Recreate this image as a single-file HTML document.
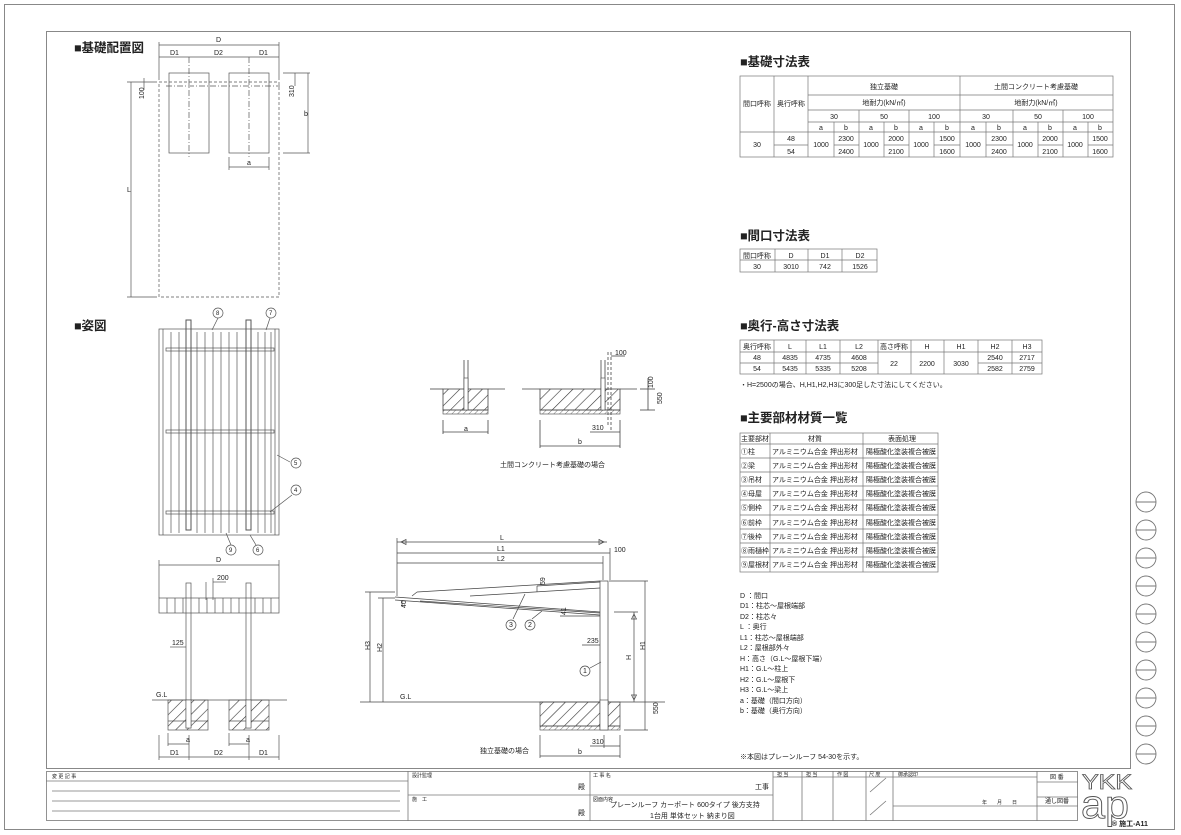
<!DOCTYPE html>
<html><head><meta charset="utf-8"><style>
html,body{margin:0;padding:0;background:#fff}
svg{display:block}
text{font-family:"Liberation Sans","Noto Sans CJK JP",sans-serif;fill:#222}
.t{font-size:7px}
.h{font-size:12.5px;font-weight:bold}
</style></head><body>
<svg width="1181" height="835" viewBox="0 0 1181 835" xmlns="http://www.w3.org/2000/svg">
<defs>
<pattern id="hat" width="8" height="8" patternUnits="userSpaceOnUse" patternTransform="rotate(45)"><line x1="0" y1="0" x2="0" y2="8" stroke="#333" stroke-width="1.2"/></pattern>
<pattern id="hat2" width="4" height="4" patternUnits="userSpaceOnUse" patternTransform="rotate(45)"><line x1="0" y1="0" x2="0" y2="4" stroke="#555" stroke-width="0.8"/></pattern>
</defs>
<g fill="none" stroke="#888" stroke-width="1">
<rect x="4.5" y="4.5" width="1170" height="825"/>
<rect x="46.5" y="31.5" width="1084" height="737"/>
</g>
<g fill="none" stroke="#777" stroke-width="0.9">
<circle cx="1146" cy="502" r="10"/><line x1="1136" y1="502" x2="1156" y2="502"/>
<circle cx="1146" cy="530" r="10"/><line x1="1136" y1="530" x2="1156" y2="530"/>
<circle cx="1146" cy="558" r="10"/><line x1="1136" y1="558" x2="1156" y2="558"/>
<circle cx="1146" cy="586" r="10"/><line x1="1136" y1="586" x2="1156" y2="586"/>
<circle cx="1146" cy="614" r="10"/><line x1="1136" y1="614" x2="1156" y2="614"/>
<circle cx="1146" cy="642" r="10"/><line x1="1136" y1="642" x2="1156" y2="642"/>
<circle cx="1146" cy="670" r="10"/><line x1="1136" y1="670" x2="1156" y2="670"/>
<circle cx="1146" cy="698" r="10"/><line x1="1136" y1="698" x2="1156" y2="698"/>
<circle cx="1146" cy="726" r="10"/><line x1="1136" y1="726" x2="1156" y2="726"/>
<circle cx="1146" cy="754" r="10"/><line x1="1136" y1="754" x2="1156" y2="754"/>
</g>

<text x="74" y="52" class="h">■基礎配置図</text>
<g stroke="#555" stroke-width="0.7" fill="none">
<rect x="159" y="82" width="120" height="215" stroke-dasharray="3,2"/>
<rect x="169" y="73" width="40" height="80"/>
<rect x="229" y="73" width="40" height="80"/>
<line x1="189" y1="57" x2="189" y2="157" stroke-dasharray="6,2,1,2"/>
<line x1="249" y1="57" x2="249" y2="157" stroke-dasharray="6,2,1,2"/>
<line x1="166" y1="86" x2="280" y2="86" stroke-dasharray="6,2,1,2"/>
<line x1="159" y1="45" x2="279" y2="45"/><line x1="159" y1="42" x2="159" y2="80"/><line x1="279" y1="42" x2="279" y2="80"/>
<line x1="159" y1="57" x2="279" y2="57"/>
<line x1="131" y1="82" x2="131" y2="297"/><line x1="127" y1="82" x2="157" y2="82"/><line x1="127" y1="297" x2="157" y2="297"/>
<line x1="144" y1="78" x2="144" y2="90"/>
<line x1="295" y1="73" x2="295" y2="86"/><line x1="308" y1="73" x2="308" y2="153"/>
<line x1="283" y1="73" x2="310" y2="73"/><line x1="283" y1="153" x2="310" y2="153"/>
<line x1="229" y1="167" x2="269" y2="167"/><line x1="229" y1="157" x2="229" y2="170"/><line x1="269" y1="157" x2="269" y2="170"/>
</g>
<text x="216" y="42" class="t">D</text><text x="170" y="55" class="t">D1</text><text x="214" y="55" class="t">D2</text><text x="259" y="55" class="t">D1</text>
<text x="127" y="192" class="t">L</text><text x="139" y="100" class="t" transform="rotate(-90 141 97)">100</text>
<text x="290" y="97" class="t" transform="rotate(-90 292 95)">310</text><text x="304" y="116" class="t">b</text>
<text x="247" y="165" class="t">a</text>

<text x="74" y="330" class="h">■姿図</text>
<g stroke="#555" stroke-width="0.7" fill="none">
<rect x="159" y="329" width="120" height="206"/>
<line x1="163" y1="329" x2="163" y2="535"/><line x1="275" y1="329" x2="275" y2="535"/>
<line x1="171" y1="332" x2="171" y2="533"/><line x1="179" y1="332" x2="179" y2="533"/>
<line x1="197" y1="332" x2="197" y2="533"/><line x1="205" y1="332" x2="205" y2="533"/><line x1="213" y1="332" x2="213" y2="533"/>
<line x1="221" y1="332" x2="221" y2="533"/><line x1="229" y1="332" x2="229" y2="533"/><line x1="237" y1="332" x2="237" y2="533"/>
<line x1="258" y1="332" x2="258" y2="533"/><line x1="265" y1="332" x2="265" y2="533"/><line x1="271" y1="332" x2="271" y2="533"/>
<rect x="186" y="320" width="5" height="210" stroke-width="1"/><rect x="246" y="320" width="5" height="210" stroke-width="1"/>
<rect x="166" y="348" width="108" height="3"/><rect x="166" y="430" width="108" height="3"/><rect x="166" y="511" width="108" height="3"/>
<line x1="212" y1="330" x2="218" y2="318"/><line x1="266" y1="330" x2="270" y2="318"/>
<line x1="277" y1="455" x2="290" y2="462"/><line x1="270" y1="512" x2="292" y2="495"/>
<line x1="226" y1="533" x2="231" y2="545"/><line x1="250" y1="535" x2="256" y2="545"/>
<circle cx="218" cy="313" r="5"/><circle cx="271" cy="313" r="5"/><circle cx="296" cy="463" r="5"/><circle cx="296" cy="490" r="5"/>
<circle cx="231" cy="550" r="5"/><circle cx="258" cy="550" r="5"/>
</g>
<g class="t"><text x="216" y="315" font-size="6">8</text><text x="269" y="315" font-size="6">7</text><text x="294" y="465" font-size="6">5</text><text x="294" y="492" font-size="6">4</text><text x="229" y="552" font-size="6">9</text><text x="256" y="552" font-size="6">6</text></g>

<g stroke="#555" stroke-width="0.7" fill="none">
<line x1="159" y1="565" x2="279" y2="565"/><line x1="159" y1="560" x2="159" y2="598"/><line x1="279" y1="560" x2="279" y2="598"/>
<line x1="206" y1="582" x2="206" y2="600"/><line x1="213" y1="578" x2="213" y2="600"/><line x1="213" y1="582" x2="226" y2="582"/>
<rect x="159" y="598" width="120" height="15"/>
<line x1="167" y1="598" x2="167" y2="613"/><line x1="175" y1="598" x2="175" y2="613"/><line x1="183" y1="598" x2="183" y2="613"/><line x1="199" y1="598" x2="199" y2="613"/><line x1="207" y1="598" x2="207" y2="613"/><line x1="215" y1="598" x2="215" y2="613"/><line x1="223" y1="598" x2="223" y2="613"/><line x1="231" y1="598" x2="231" y2="613"/><line x1="239" y1="598" x2="239" y2="613"/><line x1="255" y1="598" x2="255" y2="613"/><line x1="263" y1="598" x2="263" y2="613"/><line x1="271" y1="598" x2="271" y2="613"/>
<rect x="186" y="583" width="5" height="145"/><rect x="246" y="583" width="5" height="145"/>
<line x1="170" y1="647" x2="186" y2="647"/>
<line x1="152" y1="700" x2="287" y2="700"/>
<line x1="168" y1="721" x2="208" y2="721"/><line x1="229" y1="721" x2="269" y2="721"/>
<line x1="168" y1="744" x2="189" y2="744"/><line x1="229" y1="744" x2="249" y2="744"/>
<line x1="159" y1="757" x2="279" y2="757"/>
<line x1="159" y1="735" x2="159" y2="760"/><line x1="189" y1="735" x2="189" y2="760"/><line x1="249" y1="735" x2="249" y2="760"/><line x1="279" y1="735" x2="279" y2="760"/>
<line x1="168" y1="733" x2="168" y2="746"/><line x1="229" y1="733" x2="229" y2="746"/>
</g>
<rect x="168" y="700" width="40" height="30" fill="url(#hat)" stroke="#555" stroke-width="0.7"/>
<rect x="229" y="700" width="40" height="30" fill="url(#hat)" stroke="#555" stroke-width="0.7"/>
<rect x="186" y="700" width="5" height="28" fill="#fff" stroke="#555" stroke-width="0.6"/><rect x="246" y="700" width="5" height="28" fill="#fff" stroke="#555" stroke-width="0.6"/>
<text x="216" y="562" class="t">D</text><text x="217" y="580" class="t">200</text><text x="172" y="645" class="t">125</text>
<text x="156" y="697" class="t">G.L</text><text x="186" y="742" class="t" font-size="6">a</text><text x="246" y="742" class="t" font-size="6">a</text>
<text x="170" y="755" class="t">D1</text><text x="214" y="755" class="t">D2</text><text x="259" y="755" class="t">D1</text>

<g stroke="#444" stroke-width="0.8" fill="none">
<line x1="430" y1="389" x2="443" y2="389"/><line x1="488" y1="389" x2="505" y2="389"/>
<line x1="522" y1="389" x2="540" y2="389"/><line x1="620" y1="389" x2="637" y2="389"/>
<line x1="464" y1="360" x2="464" y2="410"/><line x1="468" y1="360" x2="468" y2="410"/>
<line x1="601" y1="360" x2="601" y2="410"/><line x1="605" y1="360" x2="605" y2="410"/>
<line x1="608" y1="352" x2="608" y2="425" stroke-dasharray="3,2"/><line x1="611" y1="352" x2="611" y2="432" stroke-dasharray="3,2"/>
<line x1="611" y1="356" x2="625" y2="356"/>
<line x1="648" y1="378" x2="648" y2="410"/><line x1="640" y1="389" x2="655" y2="389"/><line x1="640" y1="410" x2="655" y2="410"/>
<line x1="443" y1="432" x2="488" y2="432"/><line x1="443" y1="420" x2="443" y2="434"/><line x1="488" y1="420" x2="488" y2="434"/>
<line x1="590" y1="432" x2="620" y2="432"/><line x1="540" y1="446" x2="620" y2="446"/>
<line x1="540" y1="420" x2="540" y2="448"/><line x1="620" y1="420" x2="620" y2="448"/>
</g>
<rect x="443" y="389" width="45" height="21" fill="url(#hat)" stroke="#444" stroke-width="0.8"/>
<rect x="540" y="389" width="80" height="21" fill="url(#hat)" stroke="#444" stroke-width="0.8"/>
<rect x="443" y="410" width="45" height="4" fill="url(#hat2)" stroke="#444" stroke-width="0.6"/>
<rect x="540" y="410" width="80" height="4" fill="url(#hat2)" stroke="#444" stroke-width="0.6"/>
<rect x="464" y="378" width="4" height="32" fill="#fff" stroke="#444" stroke-width="0.6"/>
<rect x="601" y="378" width="4" height="32" fill="#fff" stroke="#444" stroke-width="0.6"/>
<text x="615" y="355" class="t">100</text><text x="646" y="387" class="t" transform="rotate(-90 650 384)">100</text>
<text x="654" y="404" class="t" transform="rotate(-90 658 400)">550</text>
<text x="464" y="431" class="t">a</text><text x="592" y="430" class="t">310</text><text x="578" y="444" class="t">b</text>
<text x="500" y="467" class="t">土間コンクリート考慮基礎の場合</text>

<g stroke="#444" stroke-width="0.7" fill="none">
<line x1="397" y1="542" x2="607" y2="542"/><line x1="397" y1="553" x2="610" y2="553"/><line x1="397" y1="563" x2="603" y2="563"/>
<line x1="397" y1="538" x2="397" y2="596"/><line x1="603" y1="556" x2="603" y2="580"/><line x1="610" y1="548" x2="610" y2="580"/>
<path d="M401 542 l5 -2.5 v5 z"/><path d="M604 542 l-5 -2.5 v5 z"/>
<rect x="600" y="581" width="8" height="148"/>
<line x1="395" y1="597" x2="600" y2="612"/><line x1="395" y1="600" x2="600" y2="615"/><line x1="420" y1="601" x2="600" y2="613"/>
<line x1="417" y1="592" x2="600" y2="581"/><line x1="417" y1="592" x2="412" y2="596"/><line x1="470" y1="596" x2="600" y2="588"/>
<line x1="537" y1="586" x2="600" y2="582"/><line x1="537" y1="586" x2="537" y2="592"/>
<line x1="402" y1="600" x2="402" y2="607"/>
<line x1="560" y1="616" x2="600" y2="616"/>
<line x1="513" y1="619" x2="525" y2="594"/><line x1="532" y1="619" x2="542" y2="611"/>
<circle cx="511" cy="625" r="5"/><circle cx="530" cy="625" r="5"/>
<line x1="590" y1="668" x2="601" y2="662"/><circle cx="585" cy="671" r="5"/>
<line x1="582" y1="645" x2="600" y2="645"/>
<line x1="365" y1="592" x2="395" y2="592"/><line x1="378" y1="598" x2="395" y2="598"/>
<line x1="370" y1="592" x2="370" y2="702"/><line x1="383" y1="598" x2="383" y2="702"/>
<line x1="360" y1="702" x2="665" y2="702"/>
<line x1="609" y1="581" x2="648" y2="581"/><line x1="645" y1="581" x2="645" y2="702"/>
<line x1="614" y1="612" x2="638" y2="612"/><line x1="634" y1="612" x2="634" y2="702"/>
<path d="M634 614 l-2.5 5 h5 z"/><path d="M634 700 l-2.5 -5 h5 z"/>
<line x1="624" y1="730" x2="648" y2="730"/><line x1="645" y1="702" x2="645" y2="730"/>
<line x1="540" y1="735" x2="540" y2="758"/><line x1="620" y1="735" x2="620" y2="758"/><line x1="604" y1="735" x2="604" y2="748"/>
<line x1="590" y1="746" x2="620" y2="746"/><line x1="540" y1="756" x2="620" y2="756"/>
</g>
<rect x="540" y="702" width="80" height="24" fill="url(#hat)" stroke="#444" stroke-width="0.7"/>
<rect x="540" y="726" width="80" height="4" fill="url(#hat2)" stroke="#444" stroke-width="0.6"/>
<rect x="600" y="700" width="8" height="30" fill="#fff" stroke="#444" stroke-width="0.6"/>
<text x="500" y="540" class="t">L</text><text x="497" y="551" class="t">L1</text><text x="497" y="561" class="t">L2</text><text x="614" y="552" class="t">100</text>
<text x="541" y="585" class="t" font-size="6" transform="rotate(-90 543 583)">59</text>
<text x="400" y="610" class="t" transform="rotate(-90 402 606)">40</text>
<text x="562" y="615" class="t" font-size="6" transform="rotate(-90 564 613)">41</text>
<text x="509" y="627" class="t" font-size="6">3</text><text x="528" y="627" class="t" font-size="6">2</text><text x="583" y="673" class="t" font-size="6">1</text>
<text x="587" y="643" class="t">235</text>
<text x="366" y="650" class="t" transform="rotate(-90 368 648)">H3</text><text x="378" y="652" class="t" transform="rotate(-90 380 650)">H2</text>
<text x="627" y="660" class="t" transform="rotate(-90 629 658)">H</text><text x="641" y="650" class="t" transform="rotate(-90 643 648)">H1</text>
<text x="653" y="715" class="t" transform="rotate(-90 655 712)">550</text>
<text x="400" y="699" class="t">G.L</text><text x="592" y="744" class="t">310</text><text x="578" y="754" class="t">b</text>
<text x="480" y="753" class="t">独立基礎の場合</text>

<text x="740" y="66" class="h">■基礎寸法表</text>
<g stroke="#777" stroke-width="0.7" fill="none">
<rect x="740" y="76" width="373" height="81"/>
<line x1="774" y1="76" x2="774" y2="157"/><line x1="808" y1="76" x2="808" y2="157"/>
<line x1="960" y1="76" x2="960" y2="157"/>
<line x1="808" y1="95" x2="1113" y2="95"/><line x1="808" y1="110" x2="1113" y2="110"/><line x1="808" y1="122" x2="1113" y2="122"/>
<line x1="740" y1="132" x2="1113" y2="132"/>
<line x1="774" y1="145" x2="808" y2="145"/>
<line x1="834" y1="122" x2="834" y2="157"/><line x1="859" y1="110" x2="859" y2="157"/><line x1="884" y1="122" x2="884" y2="157"/>
<line x1="909" y1="110" x2="909" y2="157"/><line x1="934" y1="122" x2="934" y2="157"/>
<line x1="986" y1="122" x2="986" y2="157"/><line x1="1013" y1="110" x2="1013" y2="157"/><line x1="1038" y1="122" x2="1038" y2="157"/>
<line x1="1063" y1="110" x2="1063" y2="157"/><line x1="1088" y1="122" x2="1088" y2="157"/>
<line x1="834" y1="145" x2="859" y2="145"/><line x1="884" y1="145" x2="909" y2="145"/><line x1="934" y1="145" x2="960" y2="145"/>
<line x1="986" y1="145" x2="1013" y2="145"/><line x1="1038" y1="145" x2="1063" y2="145"/><line x1="1088" y1="145" x2="1113" y2="145"/>
</g>
<g class="t" text-anchor="middle">
<text x="884" y="89">独立基礎</text><text x="1036" y="89">土間コンクリート考慮基礎</text>
<text x="884" y="105">地耐力(kN/㎡)</text><text x="1036" y="105">地耐力(kN/㎡)</text>
<text x="757" y="106">間口呼称</text><text x="791" y="106">奥行呼称</text>
<text x="834" y="119">30</text><text x="884" y="119">50</text><text x="934" y="119">100</text>
<text x="986" y="119">30</text><text x="1038" y="119">50</text><text x="1088" y="119">100</text>
<text x="821" y="130">a</text><text x="846" y="130">b</text><text x="871" y="130">a</text><text x="896" y="130">b</text><text x="921" y="130">a</text><text x="947" y="130">b</text>
<text x="973" y="130">a</text><text x="999" y="130">b</text><text x="1025" y="130">a</text><text x="1050" y="130">b</text><text x="1075" y="130">a</text><text x="1100" y="130">b</text>
<text x="757" y="147">30</text><text x="791" y="141">48</text><text x="791" y="154">54</text>
<text x="821" y="147">1000</text><text x="846" y="141">2300</text><text x="846" y="154">2400</text>
<text x="871" y="147">1000</text><text x="896" y="141">2000</text><text x="896" y="154">2100</text>
<text x="921" y="147">1000</text><text x="947" y="141">1500</text><text x="947" y="154">1600</text>
<text x="973" y="147">1000</text><text x="999" y="141">2300</text><text x="999" y="154">2400</text>
<text x="1025" y="147">1000</text><text x="1050" y="141">2000</text><text x="1050" y="154">2100</text>
<text x="1075" y="147">1000</text><text x="1100" y="141">1500</text><text x="1100" y="154">1600</text>
</g>

<text x="740" y="240" class="h">■間口寸法表</text>
<g stroke="#777" stroke-width="0.7" fill="none">
<rect x="740" y="249" width="137" height="23"/><line x1="740" y1="260" x2="877" y2="260"/>
<line x1="775" y1="249" x2="775" y2="272"/><line x1="808" y1="249" x2="808" y2="272"/><line x1="842" y1="249" x2="842" y2="272"/>
</g>
<g class="t" text-anchor="middle">
<text x="757" y="258">間口呼称</text><text x="791" y="258">D</text><text x="825" y="258">D1</text><text x="860" y="258">D2</text>
<text x="757" y="269">30</text><text x="791" y="269">3010</text><text x="825" y="269">742</text><text x="860" y="269">1526</text>
</g>

<text x="740" y="330" class="h">■奥行-高さ寸法表</text>
<g stroke="#777" stroke-width="0.7" fill="none">
<rect x="740" y="340" width="302" height="34"/>
<line x1="740" y1="352" x2="1042" y2="352"/>
<line x1="740" y1="363" x2="878" y2="363"/><line x1="978" y1="363" x2="1042" y2="363"/>
<line x1="774" y1="340" x2="774" y2="374"/><line x1="806" y1="340" x2="806" y2="374"/><line x1="840" y1="340" x2="840" y2="374"/>
<line x1="878" y1="340" x2="878" y2="374"/><line x1="911" y1="340" x2="911" y2="374"/><line x1="944" y1="340" x2="944" y2="374"/>
<line x1="978" y1="340" x2="978" y2="374"/><line x1="1012" y1="340" x2="1012" y2="374"/>
</g>
<g class="t" text-anchor="middle">
<text x="757" y="349">奥行呼称</text><text x="790" y="349">L</text><text x="823" y="349">L1</text><text x="859" y="349">L2</text>
<text x="894" y="349">高さ呼称</text><text x="927" y="349">H</text><text x="961" y="349">H1</text><text x="995" y="349">H2</text><text x="1027" y="349">H3</text>
<text x="757" y="360">48</text><text x="790" y="360">4835</text><text x="823" y="360">4735</text><text x="859" y="360">4608</text>
<text x="757" y="371">54</text><text x="790" y="371">5435</text><text x="823" y="371">5335</text><text x="859" y="371">5208</text>
<text x="894" y="366">22</text><text x="927" y="366">2200</text><text x="961" y="366">3030</text>
<text x="995" y="360">2540</text><text x="1027" y="360">2717</text><text x="995" y="371">2582</text><text x="1027" y="371">2759</text>
</g>
<text x="740" y="387" class="t">・H=2500の場合、H,H1,H2,H3に300足した寸法にしてください。</text>

<text x="740" y="422" class="h">■主要部材材質一覧</text>
<g stroke="#777" stroke-width="0.7" fill="none">
<rect x="740" y="433" width="198" height="139"/>
<line x1="770" y1="433" x2="770" y2="572"/><line x1="863" y1="433" x2="863" y2="572"/>
<line x1="740" y1="444" x2="938" y2="444"/><line x1="740" y1="458" x2="938" y2="458"/><line x1="740" y1="472" x2="938" y2="472"/>
<line x1="740" y1="486" x2="938" y2="486"/><line x1="740" y1="500" x2="938" y2="500"/><line x1="740" y1="515" x2="938" y2="515"/>
<line x1="740" y1="529" x2="938" y2="529"/><line x1="740" y1="543" x2="938" y2="543"/><line x1="740" y1="557" x2="938" y2="557"/>
</g>
<g class="t">
<text x="741" y="441">主要部材</text><text x="808" y="441">材質</text><text x="888" y="441">表面処理</text>
<text x="741" y="454">①柱</text><text x="741" y="468">②梁</text><text x="741" y="482">③吊材</text><text x="741" y="496">④母屋</text><text x="741" y="510">⑤側枠</text>
<text x="741" y="525">⑥前枠</text><text x="741" y="539">⑦後枠</text><text x="741" y="553">⑧雨樋枠</text><text x="741" y="567">⑨屋根材</text>
<text x="772" y="454">アルミニウム合金 押出形材</text><text x="772" y="468">アルミニウム合金 押出形材</text><text x="772" y="482">アルミニウム合金 押出形材</text><text x="772" y="496">アルミニウム合金 押出形材</text><text x="772" y="510">アルミニウム合金 押出形材</text><text x="772" y="525">アルミニウム合金 押出形材</text><text x="772" y="539">アルミニウム合金 押出形材</text><text x="772" y="553">アルミニウム合金 押出形材</text><text x="772" y="567">アルミニウム合金 押出形材</text>
<text x="866" y="454">陽極酸化塗装複合被膜</text><text x="866" y="468">陽極酸化塗装複合被膜</text><text x="866" y="482">陽極酸化塗装複合被膜</text><text x="866" y="496">陽極酸化塗装複合被膜</text><text x="866" y="510">陽極酸化塗装複合被膜</text><text x="866" y="525">陽極酸化塗装複合被膜</text><text x="866" y="539">陽極酸化塗装複合被膜</text><text x="866" y="553">陽極酸化塗装複合被膜</text><text x="866" y="567">陽極酸化塗装複合被膜</text>
</g>

<g class="t">
<text x="740" y="598">D ：間口</text><text x="740" y="608">D1：柱芯～屋根端部</text><text x="740" y="619">D2：柱芯々</text>
<text x="740" y="629">L ：奥行</text><text x="740" y="640">L1：柱芯～屋根端部</text><text x="740" y="650">L2：屋根部外々</text>
<text x="740" y="661">H：高さ（G.L～屋根下端）</text><text x="740" y="671">H1：G.L～柱上</text><text x="740" y="682">H2：G.L～屋根下</text>
<text x="740" y="692">H3：G.L～梁上</text><text x="740" y="703">a：基礎（間口方向）</text><text x="740" y="713">b：基礎（奥行方向）</text>
<text x="740" y="759">※本図はプレーンルーフ 54-30を示す。</text>
</g>

<g stroke="#777" stroke-width="0.8" fill="none">
<rect x="46.5" y="771.5" width="1031" height="49"/>
<line x1="46" y1="781" x2="408" y2="781"/>
<line x1="52" y1="791" x2="400" y2="791"/><line x1="52" y1="801" x2="400" y2="801"/><line x1="52" y1="811" x2="400" y2="811"/>
<line x1="408" y1="771" x2="408" y2="821"/><line x1="408" y1="795" x2="773" y2="795"/>
<line x1="590" y1="771" x2="590" y2="821"/>
<line x1="773" y1="771" x2="773" y2="821"/><line x1="802" y1="771" x2="802" y2="821"/><line x1="833" y1="771" x2="833" y2="821"/><line x1="866" y1="771" x2="866" y2="821"/><line x1="893" y1="771" x2="893" y2="821"/>
<line x1="773" y1="777" x2="1037" y2="777"/>
<line x1="893" y1="806" x2="1037" y2="806"/>
<line x1="1037" y1="771" x2="1037" y2="821"/><line x1="1037" y1="782" x2="1078" y2="782"/><line x1="1037" y1="797" x2="1078" y2="797"/><line x1="1037" y1="806" x2="1078" y2="806"/>
<line x1="870" y1="792" x2="886" y2="778"/><line x1="870" y1="815" x2="886" y2="801"/>
</g>
<g class="t">
<text x="52" y="778" font-size="5">変 更 記 事</text><text x="412" y="777" font-size="5">設計監理</text><text x="412" y="801" font-size="5">施　工</text>
<text x="593" y="777" font-size="5">工 事 名</text><text x="593" y="801" font-size="5">図面内容</text>
<text x="777" y="776" font-size="5">担 当</text><text x="806" y="776" font-size="5">担 当</text><text x="837" y="776" font-size="5">作 図</text><text x="869" y="776" font-size="5">尺 度</text><text x="898" y="776" font-size="5">御承認印</text>
<text x="1050" y="779" font-size="6">図 番</text><text x="1045" y="803" font-size="6">通し図番</text>
<text x="982" y="804" font-size="5">年　　月　　日</text>
</g>
<text x="578" y="789" class="t" font-size="9">殿</text><text x="578" y="815" class="t" font-size="9">殿</text>
<text x="755" y="789" class="t" font-size="9">工事</text>
<text x="610" y="807" class="t" font-size="8.5">プレーンルーフ カーポート 600タイプ 後方支持</text>
<text x="650" y="818" class="t" font-size="8.5">1台用 単体セット 納まり図</text>
<text x="1082" y="789" font-size="21" textLength="50" lengthAdjust="spacingAndGlyphs" stroke="#555" stroke-width="0.8" style="fill:none">YKK</text>
<text x="1081" y="818" font-size="40" textLength="48" lengthAdjust="spacingAndGlyphs" stroke="#555" stroke-width="0.9" style="fill:none">ap</text>
<text x="1112" y="826" class="t" font-size="6" font-weight="bold">® 施工-A11</text>
</svg>
</body></html>
